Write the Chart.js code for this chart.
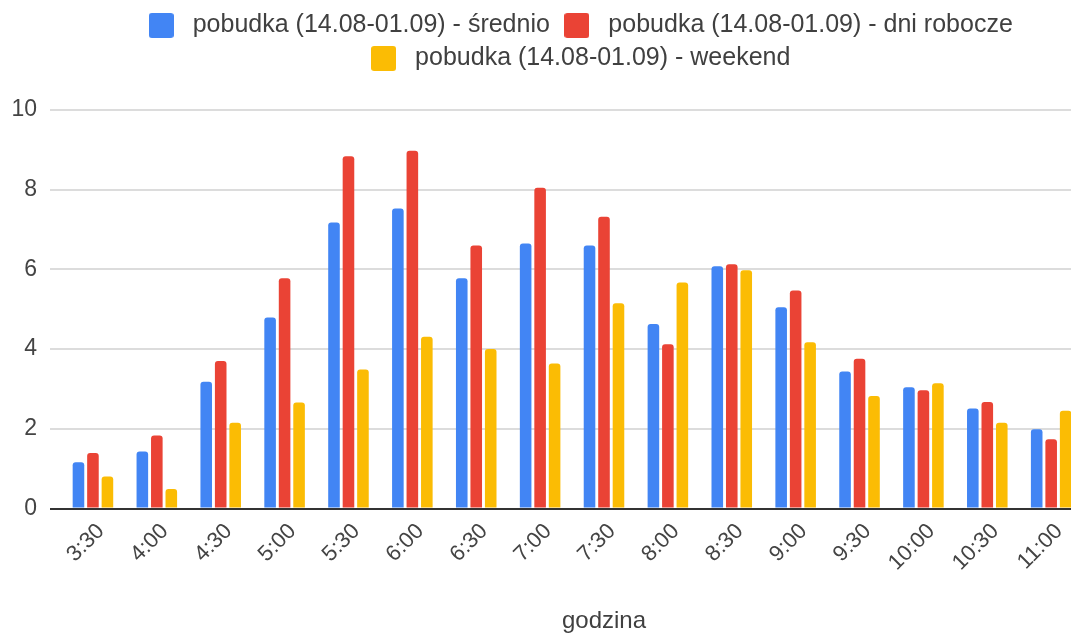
<!DOCTYPE html>
<html>
<head>
<meta charset="utf-8">
<script src="https://cdn.jsdelivr.net/npm/chart.js@4.4.1/dist/chart.umd.min.js"></script>
<style>
  html, body { margin: 0; padding: 0; background: #ffffff; overflow: hidden; }
  #wrap { width: 1071px; height: 636px; overflow: hidden; }
  canvas { display: block; }
</style>
</head>
<body>
<div id="wrap"><canvas id="chart" width="1155" height="636" style="width:1155px;height:636px"></canvas></div>
<script>
// Half-hour wake-up slots (the axis continues past 11:00)
const categories = ['3:30', '4:00', '4:30', '5:00', '5:30', '6:00', '6:30', '7:00',
                    '7:30', '8:00', '8:30', '9:00', '9:30', '10:00', '10:30', '11:00', '11:30'];

// Wake-ups per slot
const srednio     = [1.16, 1.43, 3.18, 4.79, 7.18, 7.53, 5.78, 6.65, 6.60, 4.63, 6.08, 5.05, 3.44, 3.04, 2.51, 1.99, null];
const dniRobocze  = [1.39, 1.83, 3.70, 5.78, 8.84, 8.98, 6.60, 8.05, 7.32, 4.12, 6.13, 5.47, 3.76, 2.97, 2.67, 1.74, null];
const weekend     = [0.80, 0.49, 2.15, 2.66, 3.49, 4.31, 4.00, 3.64, 5.15, 5.67, 5.98, 4.17, 2.82, 3.14, 2.15, 2.45, null];

const seriesNames = [
  'pobudka (14.08-01.09) - średnio',
  'pobudka (14.08-01.09) - dni robocze',
  'pobudka (14.08-01.09) - weekend'
];
const seriesColors = ['#4285F4', '#EA4335', '#FBBC04'];

const yTicks = [0, 2, 4, 6, 8, 10];
const axisTitle = 'godzina';

const FONT = '"Liberation Sans", Arial, sans-serif';

// Rounded square swatch for the legend
function swatch(color) {
  const c = document.createElement('canvas');
  c.width = 25; c.height = 25;
  const g = c.getContext('2d');
  g.fillStyle = color;
  g.beginPath();
  g.roundRect(0, 0, 25, 25, 3);
  g.fill();
  return c;
}

// Extra room between legend and plot
const legendGap = {
  id: 'legendGap',
  beforeInit(chart) {
    const fit = chart.legend.fit;
    chart.legend.fit = function () {
      fit.call(this);
      this.height += 29;
    };
  }
};

const datasets = [srednio, dniRobocze, weekend].map((values, i) => ({
  label: seriesNames[i],
  data: values,
  backgroundColor: seriesColors[i],
  pointStyle: swatch(seriesColors[i]),
  borderWidth: 0,
  borderRadius: { topLeft: 3, topRight: 3, bottomLeft: 0, bottomRight: 0 },
  borderSkipped: 'start',
  categoryPercentage: 0.68,
  barPercentage: 0.80
}));

new Chart(document.getElementById('chart'), {
  type: 'bar',
  data: { labels: categories, datasets },
  plugins: [legendGap],
  options: {
    responsive: false,
    animation: false,
    layout: { padding: { top: 5, left: 0, right: 0, bottom: 0 } },
    plugins: {
      tooltip: { enabled: false },
      legend: {
        position: 'top',
        align: 'center',
        labels: {
          usePointStyle: true,
          pointStyleWidth: 38,
          padding: 8,
          color: '#404040',
          font: { family: FONT, size: 25 }
        }
      }
    },
    scales: {
      x: {
        grid: { display: false, drawTicks: false },
        border: { display: false },
        ticks: {
          autoSkip: false,
          minRotation: 45,
          maxRotation: 45,
          padding: 10,
          labelOffset: 8,
          color: '#444444',
          font: { family: FONT, size: 22 }
        },
        title: {
          display: true,
          text: axisTitle,
          color: '#404040',
          padding: { top: 0, bottom: 0 },
          font: { family: FONT, size: 24 }
        },
        afterFit(scale) { scale.height = 127.5; }
      },
      y: {
        min: 0,
        max: 10,
        afterBuildTicks(scale) { scale.ticks = yTicks.map(v => ({ value: v })); },
        grid: {
          color: c => (c.tick && c.tick.value === 0 ? '#333333' : '#dcdcdc'),
          tickColor: c => (c.tick && c.tick.value === 0 ? '#333333' : '#dcdcdc'),
          lineWidth: 2,
          tickWidth: 2,
          tickLength: 11,
          drawTicks: true
        },
        border: { display: false },
        ticks: {
          padding: 13,
          color: '#444444',
          font: { family: FONT, size: 23 }
        },
        afterFit(scale) { scale.width = 61; }
      },
      yRight: {
        position: 'right',
        display: true,
        grid: { display: false },
        border: { display: false },
        ticks: { display: false },
        afterFit(scale) { scale.width = 8; }
      }
    }
  }
});
</script>
</body>
</html>
